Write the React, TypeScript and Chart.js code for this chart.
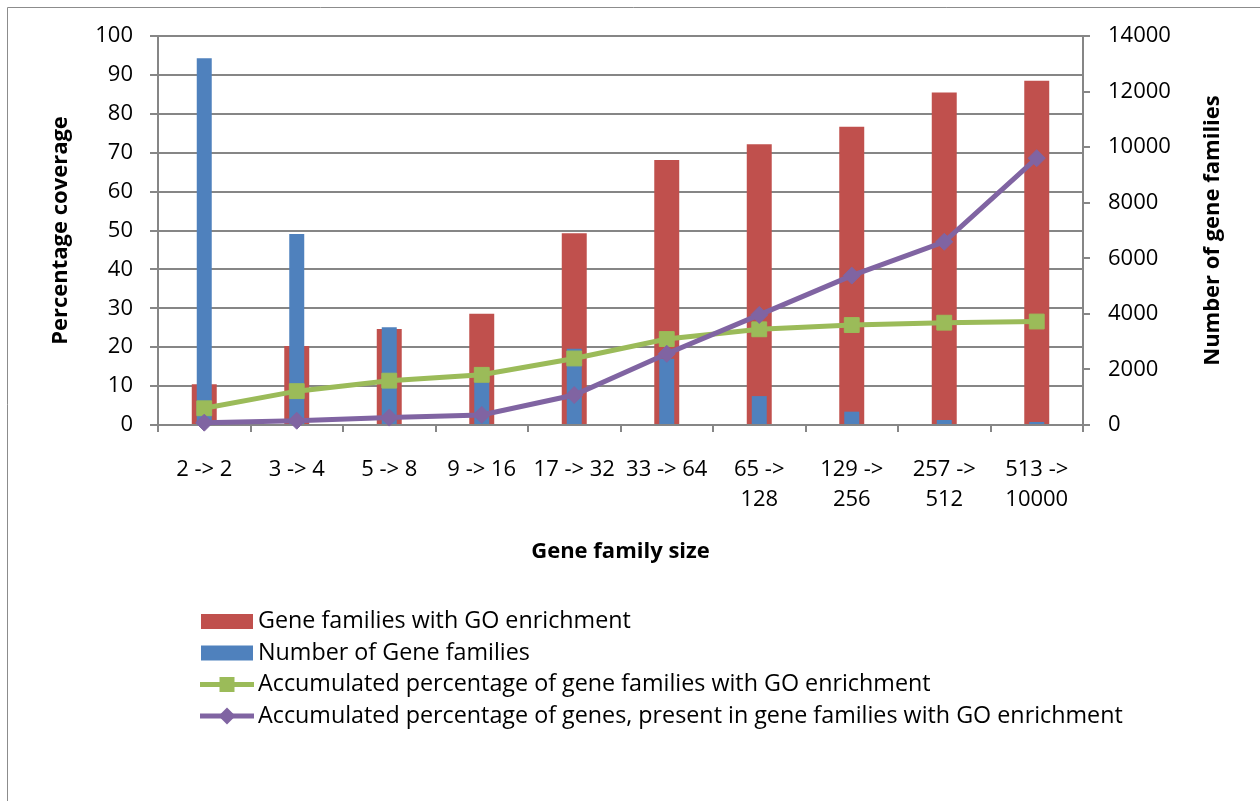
import React, { useEffect, useRef } from "react";
import { Chart, registerables } from "chart.js";

Chart.register(...registerables);

// Gene family size bins (multi-line where the label wraps)
const categories: string[][] = [
  ["2 -> 2"],
  ["3 -> 4"],
  ["5 -> 8"],
  ["9 -> 16"],
  ["17 -> 32"],
  ["33 -> 64"],
  ["65 ->", "128"],
  ["129 ->", "256"],
  ["257 ->", "512"],
  ["513 ->", "10000"],
];

// Percentage of gene families with GO enrichment (left axis)
const goEnrichmentPct = [10.5, 20.3, 24.7, 28.6, 49.3, 68.1, 72.2, 76.7, 85.5, 88.5];
// Number of gene families in each bin (right axis)
const geneFamilyCount = [13200, 6870, 3520, 1540, 2740, 2380, 1040, 480, 180, 110];
// Accumulated percentage of gene families with GO enrichment
const accumFamiliesPct = [4.3, 8.7, 11.4, 12.9, 17.1, 22.1, 24.6, 25.7, 26.3, 26.6];
// Accumulated percentage of genes present in GO-enriched families
const accumGenesPct = [0.6, 1.1, 1.9, 2.6, 7.7, 18.3, 28.3, 38.4, 47.1, 68.6];

const seriesLabels = [
  "Gene families with GO enrichment",
  "Number of Gene families",
  "Accumulated percentage of gene families with GO enrichment",
  "Accumulated percentage of genes, present in gene families with GO enrichment",
];

const leftTicksMax = 100;
const rightTicksMax = 14000;
const rightAxisTitle = "Number of gene families";

const RED = "#C0504D";
const BLUE = "#4F81BD";
const GREEN = "#9BBB59";
const PURPLE = "#8064A2";
const GRID = "#868686";
const FONT = "'Open Sans', 'Noto Sans', sans-serif";

// Frame, right-hand axis title and the stacked legend drawn onto the canvas
const decorPlugin = {
  id: "decor",
  beforeDraw(chart: any) {
    const ctx = chart.ctx as CanvasRenderingContext2D;
    ctx.save();
    ctx.strokeStyle = "#8c8c8c";
    ctx.lineWidth = 1;
    ctx.beginPath();
    ctx.moveTo(7.5, chart.height);
    ctx.lineTo(7.5, 7.5);
    ctx.lineTo(chart.width, 7.5);
    ctx.stroke();
    ctx.restore();
  },
  afterDraw(chart: any) {
    const ctx = chart.ctx as CanvasRenderingContext2D;
    const area = chart.chartArea;
    ctx.save();

    // right axis title, reading upwards
    ctx.fillStyle = "#000";
    ctx.font = `bold 22px ${FONT}`;
    ctx.textAlign = "center";
    ctx.textBaseline = "middle";
    ctx.translate(1213, (area.top + area.bottom) / 2);
    ctx.rotate(-Math.PI / 2);
    ctx.fillText(rightAxisTitle, 0, 0);
    ctx.setTransform(1, 0, 0, 1, 0, 0);

    // legend
    const x0 = 201;
    const x1 = 253;
    const textX = 258;
    const rowY0 = 621.5;
    const rowGap = 31.5;
    ctx.font = `23.3px ${FONT}`;
    ctx.textAlign = "left";
    ctx.textBaseline = "middle";
    chart.data.datasets.forEach((ds: any, i: number) => {
      const y = rowY0 + i * rowGap;
      if (ds.type === "bar") {
        ctx.fillStyle = ds.backgroundColor;
        ctx.fillRect(x0, y - 7.5, x1 - x0, 15);
      } else {
        ctx.strokeStyle = ds.borderColor;
        ctx.lineWidth = 5;
        ctx.beginPath();
        ctx.moveTo(x0 - 1, y);
        ctx.lineTo(x1 + 1, y);
        ctx.stroke();
        const cx = (x0 + x1) / 2;
        ctx.fillStyle = ds.borderColor;
        ctx.beginPath();
        if (ds.pointStyle === "rect") {
          ctx.rect(cx - 7.5, y - 7.5, 15, 15);
        } else {
          ctx.moveTo(cx, y - 8.5);
          ctx.lineTo(cx + 8.5, y);
          ctx.lineTo(cx, y + 8.5);
          ctx.lineTo(cx - 8.5, y);
          ctx.closePath();
        }
        ctx.fill();
      }
      ctx.fillStyle = "#000";
      ctx.fillText(ds.label, textX, y);
    });
    ctx.restore();
  },
};

export default function App() {
  const canvasRef = useRef<HTMLCanvasElement | null>(null);

  useEffect(() => {
    if (!canvasRef.current) return;
    const tickFont = { family: FONT, size: 22, lineHeight: 1.4 };
    const titleFont = { family: FONT, size: 22, weight: "bold" as const };
    const plainNumber = (v: any) => String(v);

    const chart = new Chart(canvasRef.current, {
      type: "bar",
      data: {
        labels: categories,
        datasets: [
          {
            type: "bar",
            label: seriesLabels[0],
            data: goEnrichmentPct,
            yAxisID: "y",
            backgroundColor: RED,
            grouped: false,
            barPercentage: 1,
            categoryPercentage: 0.27,
            order: 3,
          },
          {
            type: "bar",
            label: seriesLabels[1],
            data: geneFamilyCount,
            yAxisID: "y1",
            backgroundColor: BLUE,
            grouped: false,
            barPercentage: 1,
            categoryPercentage: 0.162,
            order: 2,
          },
          {
            type: "line",
            label: seriesLabels[2],
            data: accumFamiliesPct,
            yAxisID: "y",
            borderColor: GREEN,
            backgroundColor: GREEN,
            borderWidth: 5,
            tension: 0,
            pointStyle: "rect",
            pointRadius: 10.5,
            pointBackgroundColor: GREEN,
            pointBorderColor: GREEN,
            pointBorderWidth: 1,
            clip: false,
            order: 1,
          },
          {
            type: "line",
            label: seriesLabels[3],
            data: accumGenesPct,
            yAxisID: "y",
            borderColor: PURPLE,
            backgroundColor: PURPLE,
            borderWidth: 5,
            tension: 0,
            pointStyle: "rectRot",
            pointRadius: 8.5,
            pointBackgroundColor: PURPLE,
            pointBorderColor: PURPLE,
            pointBorderWidth: 1,
            clip: false,
            order: 0,
          },
        ] as any,
      },
      options: {
        animation: false,
        responsive: false,
        maintainAspectRatio: false,
        layout: { padding: { top: 36, bottom: 226, left: 0, right: 0 } },
        plugins: {
          legend: { display: false },
          tooltip: { enabled: false },
        },
        scales: {
          x: {
            type: "category",
            offset: true,
            grid: {
              offset: true,
              drawOnChartArea: false,
              drawTicks: true,
              tickLength: 7,
              color: GRID,
              lineWidth: 2,
            },
            border: { display: true, color: GRID, width: 2 },
            ticks: {
              autoSkip: false,
              maxRotation: 0,
              minRotation: 0,
              padding: 22,
              color: "#000",
              font: tickFont,
            },
            title: {
              display: true,
              text: "Gene family size",
              color: "#000",
              font: titleFont,
              padding: { top: 0, bottom: 10 },
            },
            afterFit: (s: any) => {
              s.height = 150;
            },
          },
          y: {
            type: "linear",
            position: "left",
            min: 0,
            max: leftTicksMax,
            ticks: { stepSize: 10, padding: 17, color: "#000", font: tickFont, callback: plainNumber },
            grid: { color: GRID, lineWidth: 2, tickLength: 8, drawTicks: true },
            border: { display: true, color: GRID, width: 2 },
            title: {
              display: true,
              text: "Percentage coverage",
              color: "#000",
              font: titleFont,
              padding: { top: 48, bottom: 0 },
            },
            afterFit: (s: any) => {
              s.width = 158;
            },
          },
          y1: {
            type: "linear",
            position: "right",
            min: 0,
            max: rightTicksMax,
            ticks: { stepSize: 2000, padding: 18, color: "#000", font: tickFont, callback: plainNumber },
            grid: { drawOnChartArea: false, color: GRID, lineWidth: 2, tickLength: 7, drawTicks: true },
            border: { display: true, color: GRID, width: 2 },
            afterFit: (s: any) => {
              s.width = 177;
            },
          },
        },
      } as any,
      plugins: [decorPlugin],
    });

    return () => chart.destroy();
  }, []);

  return (
    <div
      style={{
        position: "fixed",
        left: 0,
        top: 0,
        width: 1260,
        height: 801,
        background: "#fff",
      }}
    >
      <canvas ref={canvasRef} width={1260} height={801} style={{ width: 1260, height: 801, display: "block" }} />
    </div>
  );
}
